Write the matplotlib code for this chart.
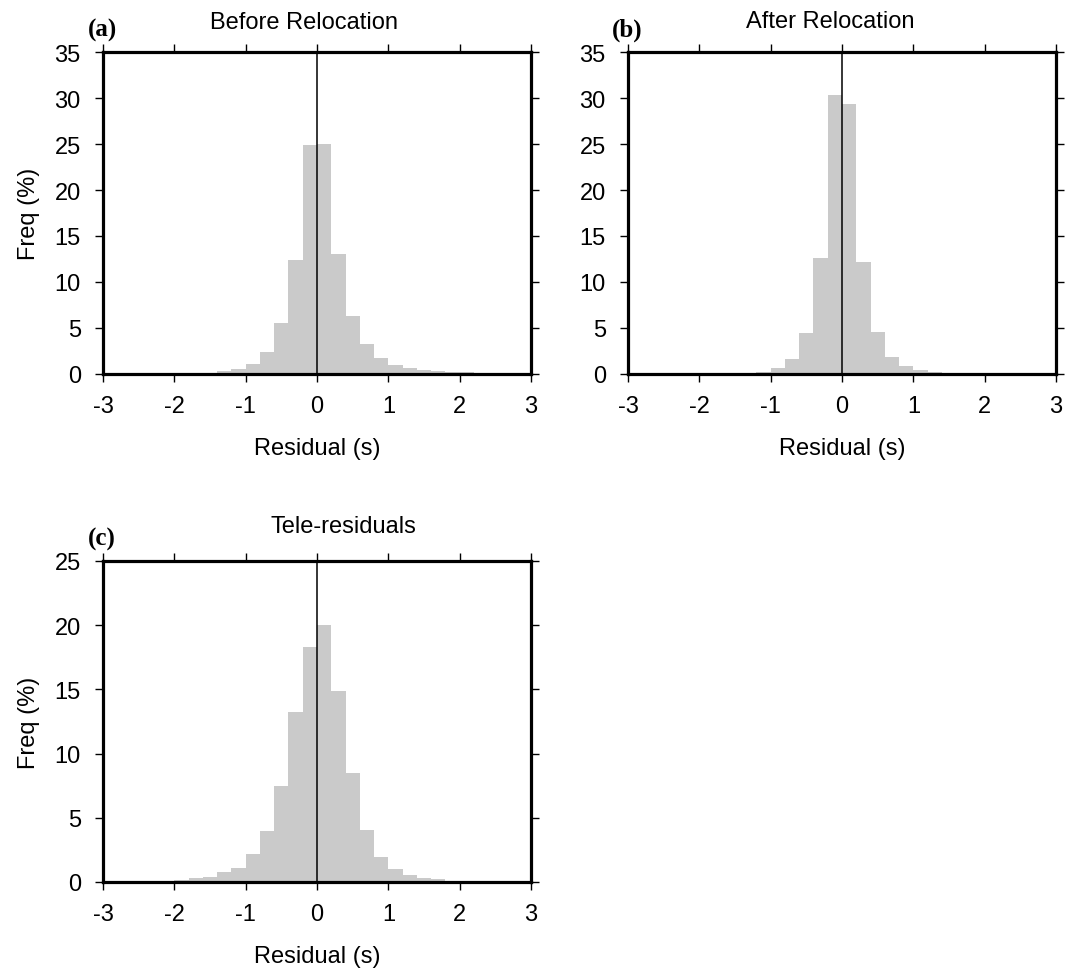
import numpy as np
import matplotlib
matplotlib.use("Agg")
import matplotlib.pyplot as plt

plt.rcParams['font.family'] = ['Liberation Sans', 'DejaVu Sans']

# bin left edges (width 0.2) from -3 to 3
bin_left = np.round(np.arange(-3.0, 2.99, 0.2), 2)
bin_width = 0.2

freq_before = [0, 0, 0, 0, 0.02, 0.05, 0.08, 0.15, 0.33, 0.54, 1.09, 2.39, 5.54, 12.4, 24.9,
               25.0, 13.0, 6.3, 3.26, 1.78, 0.98, 0.69, 0.43, 0.33, 0.22, 0.22, 0.06, 0.03, 0.01, 0]
freq_after = [0, 0, 0, 0, 0, 0, 0, 0, 0.05, 0.22, 0.69, 1.67, 4.46, 12.6, 30.3,
              29.3, 12.2, 4.57, 1.85, 0.87, 0.43, 0.22, 0.05, 0, 0, 0, 0, 0, 0, 0]
freq_tele = [0, 0, 0, 0, 0, 0.13, 0.31, 0.39, 0.75, 1.09, 2.2, 3.99, 7.5, 13.24, 18.3,
             20.0, 14.9, 8.49, 4.07, 1.95, 1.04, 0.54, 0.34, 0.23, 0.05, 0, 0, 0, 0, 0]

titles = ["Before Relocation", "After Relocation", "Tele-residuals"]
tags = ["(a)", "(b)", "(c)"]
xticks = [-3, -2, -1, 0, 1, 2, 3]
yticks_ab = [0, 5, 10, 15, 20, 25, 30, 35]
yticks_c = [0, 5, 10, 15, 20, 25]

W, H = 1076, 970
fig = plt.figure(figsize=(W / 100, H / 100), dpi=100)

def px_axes(x0, y0, x1, y1):
    return fig.add_axes([x0 / W, 1 - y1 / H, (x1 - x0) / W, (y1 - y0) / H])

panels = [
    (px_axes(103, 53, 531, 375), freq_before, yticks_ab, 35, True, 304, 29, 88, 30),
    (px_axes(628, 53, 1056, 375), freq_after, yticks_ab, 35, False, 830, 28.5, 612, 30),
    (px_axes(103, 562, 531, 883), freq_tele, yticks_c, 25, True, 343, 533, 88, 539),
]

for i, (ax, vals, yt, ymax, ylab, tx, ty, lx, ly) in enumerate(panels):
    ax.bar(bin_left, vals, width=bin_width, align='edge', color='#cacaca',
           edgecolor='none', linewidth=0, zorder=1)
    ax.axvline(0, color='black', linewidth=1.1, zorder=2, clip_on=False)
    ax.set_xlim(-3, 3)
    ax.set_ylim(0, ymax)
    ax.set_xticks(xticks)
    ax.set_xticklabels([str(v) for v in xticks])
    ax.set_yticks(yt)
    ax.set_yticklabels([str(v) for v in yt])
    for s in ax.spines.values():
        s.set_linewidth(2.3)
        s.set_zorder(3)
    ax.tick_params(axis='both', direction='out', length=6, width=1.0,
                   labelsize=17, top=True, right=True,
                   labeltop=False, labelright=False)
    ax.tick_params(axis='x', pad=9.3)
    ax.tick_params(axis='y', pad=10)
    ax.set_xlabel("Residual (s)", fontsize=17, labelpad=14)
    if ylab:
        ax.set_ylabel("Freq (%)", fontsize=17, labelpad=10.5)
    fig.text(tx / W, 1 - ty / H, titles[i], fontsize=17, ha='center', va='baseline')
    fig.text(lx / W, 1 - ly / H, tags[i], fontsize=18, fontweight='bold',
             family=['Liberation Serif', 'DejaVu Serif'], ha='left', va='center')

fig.savefig("out.png", dpi=100)
